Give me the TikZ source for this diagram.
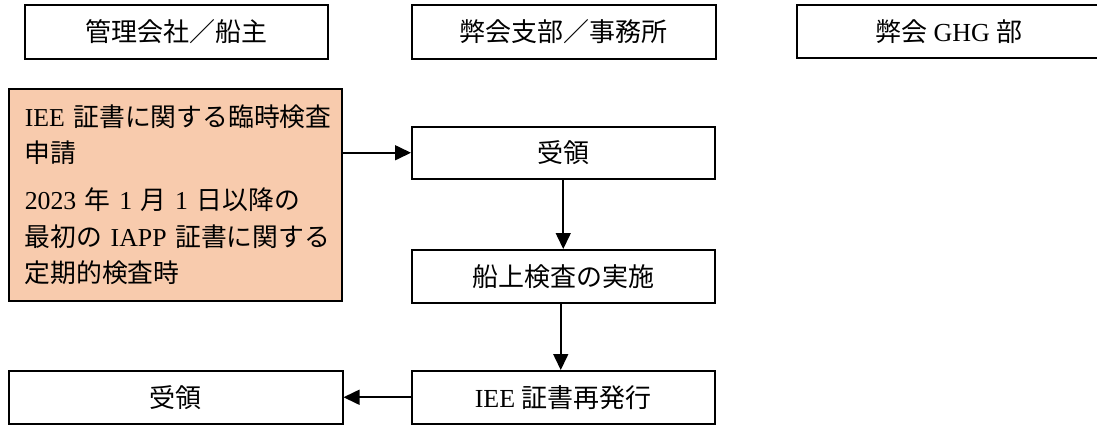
\documentclass[tikz,border=0pt]{standalone}
\usepackage{fontspec}
\setmainfont{Liberation Serif}
\newfontfamily\jp{Noto Sans CJK JP}
\usetikzlibrary{arrows.meta}
\definecolor{peach}{RGB}{248,203,173}
\hbadness=10000 \hfuzz=100pt
\begin{document}
\begin{tikzpicture}[x=1pt,y=-1pt,
  box/.style={draw=black,line width=1.5pt,inner sep=0pt,anchor=north west,
    font=\fontsize{26}{30}\selectfont},
  conn/.style={line width=1.6pt,-{Triangle[length=16pt,width=15pt]}}]
\useasboundingbox (0,0) rectangle (1097,426);
% headers
\node[box,minimum width=303,minimum height=54] (h1) at (24,4) {\jp 管理会社／船主};
\node[box,minimum width=304,minimum height=54] (h2) at (411,4) {\jp 弊会支部／事務所};
\node[box,minimum width=304,minimum height=53] (h3) at (796,4) {{\jp 弊会}~GHG~{\jp 部}};
% application box
\node[box,fill=peach,minimum width=333,minimum height=212,text width=301,
  align=left,inner xsep=16pt,font=\fontsize{25.8}{36.5}\selectfont] (o) at (8,88)
  {IEE~{\jp 証書に関する臨時検査}\\
   {\jp 申請}\\[10.5pt]
   2023~{\jp 年}~1~{\jp 月}~1~{\jp 日以降の}\\
   {\jp 最初の}~IAPP~{\jp 証書に関する}\\
   {\jp 定期的検査時}};
% flow boxes
\node[box,minimum width=303,minimum height=52] (r1) at (411,126) {\jp 受領};
\node[box,minimum width=303,minimum height=53] (s) at (411,249) {\jp 船上検査の実施};
\node[box,minimum width=303,minimum height=53] (iee) at (411,370) {IEE~{\jp 証書再発行}};
\node[box,minimum width=334,minimum height=53] (l) at (8,370) {\jp 受領};
% connectors
\draw[conn] (r1.west -| o.east) -- (r1.west);
\draw[conn] (r1.south) -- (s.north);
\draw[conn] ([xshift=-2.5pt]s.south) -- ([xshift=-2.5pt]iee.north);
\draw[conn] (iee.west) -- (l.east);
\end{tikzpicture}
\end{document}
